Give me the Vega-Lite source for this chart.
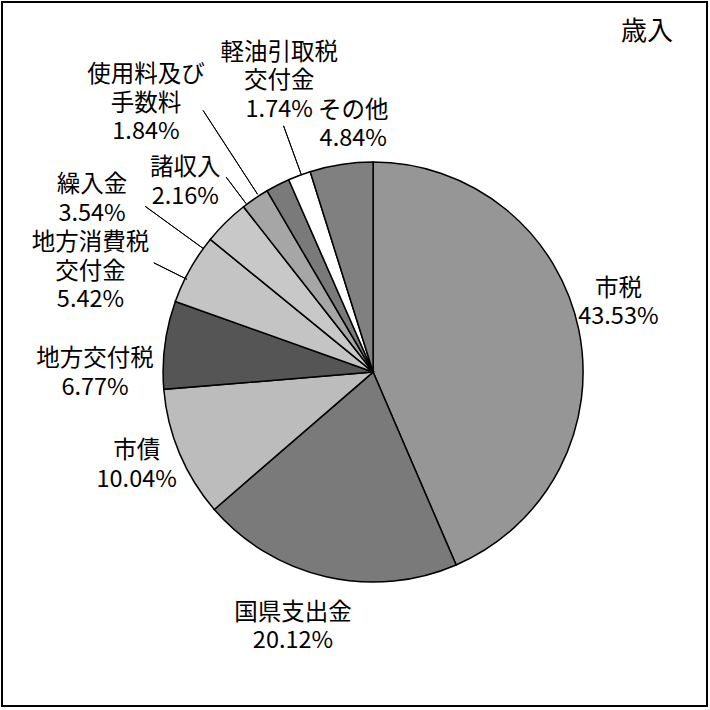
{
  "$schema": "https://vega.github.io/schema/vega-lite/v6.json",
  "width": 705,
  "height": 704,
  "autosize": {"type": "none"},
  "padding": {"left": 2, "top": 2, "right": 3, "bottom": 4},
  "background": "white",
  "config": {
    "view": {"stroke": "black", "strokeWidth": 2},
    "text": {"font": "Noto Sans CJK JP", "fontSize": 23.5, "lineHeight": 28.5, "lineBreak": "\n", "color": "black"}
  },
  "title": {
    "text": "歳入",
    "anchor": "end",
    "orient": "top",
    "frame": "group",
    "offset": -64,
    "dx": -34,
    "font": "Noto Sans CJK JP",
    "fontSize": 26,
    "fontWeight": "normal",
    "color": "black",
    "baseline": "alphabetic"
  },
  "data": {
    "values": [
      {"name": "市税", "value": 43.53},
      {"name": "国県支出金", "value": 20.12},
      {"name": "市債", "value": 10.04},
      {"name": "地方交付税", "value": 6.77},
      {"name": "地方消費税\n交付金", "value": 5.42},
      {"name": "繰入金", "value": 3.54},
      {"name": "諸収入", "value": 2.16},
      {"name": "使用料及び\n手数料", "value": 1.84},
      {"name": "軽油引取税\n交付金", "value": 1.74},
      {"name": "その他", "value": 4.84}
    ]
  },
  "transform": [
    {"stack": "value", "groupby": [], "as": ["v0", "v1"]},
    {"calculate": "(datum.v0 + datum.v1) / 2", "as": "mid"},
    {"calculate": "datum.name + '\\n' + format(datum.value, '.2f') + '%'", "as": "label"}
  ],
  "encoding": {
    "x": {"datum": 0, "type": "quantitative", "scale": {"domain": [-1.767, 1.59], "nice": false, "zero": false}, "axis": null},
    "y": {"datum": 0, "type": "quantitative", "scale": {"domain": [-1.59, 1.762], "nice": false, "zero": false}, "axis": null}
  },
  "layer": [
    {
      "mark": {"type": "arc", "radius": 210, "stroke": "black", "strokeWidth": 1.5},
      "encoding": {
        "theta": {"field": "v0", "type": "quantitative", "scale": {"domain": [0, 100]}},
        "theta2": {"field": "v1"},
        "color": {
          "field": "name",
          "type": "nominal",
          "legend": null,
          "scale": {
            "domain": ["市税", "国県支出金", "市債", "地方交付税", "地方消費税\n交付金", "繰入金", "諸収入", "使用料及び\n手数料", "軽油引取税\n交付金", "その他"],
            "range": ["#969696", "#7a7a7a", "#bcbcbc", "#555555", "#c4c4c4", "#c8c8c8", "#a6a6a6", "#7a7a7a", "#ffffff", "#808080"]
          }
        }
      }
    },
    {
      "transform": [{"filter": {"field": "name", "equal": "地方消費税\n交付金"}}],
      "mark": {"type": "arc", "radius": 245, "radius2": 208, "thetaOffset": -0.051, "theta2Offset": -0.051, "stroke": "black", "strokeWidth": 1, "fill": null},
      "encoding": {"theta": {"field": "mid", "type": "quantitative"}, "theta2": {"field": "mid"}}
    },
    {
      "transform": [{"filter": {"field": "name", "equal": "繰入金"}}],
      "mark": {"type": "arc", "radius": 282, "radius2": 210, "thetaOffset": -0.166, "theta2Offset": -0.166, "stroke": "black", "strokeWidth": 1, "fill": null},
      "encoding": {"theta": {"field": "mid", "type": "quantitative"}, "theta2": {"field": "mid"}}
    },
    {
      "transform": [{"filter": {"field": "name", "equal": "諸収入"}}],
      "mark": {"type": "arc", "radius": 244, "radius2": 211, "thetaOffset": -0.049, "theta2Offset": -0.049, "stroke": "black", "strokeWidth": 1, "fill": null},
      "encoding": {"theta": {"field": "mid", "type": "quantitative"}, "theta2": {"field": "mid"}}
    },
    {
      "transform": [{"filter": {"field": "name", "equal": "使用料及び\n手数料"}}],
      "mark": {"type": "arc", "radius": 312, "radius2": 212, "thetaOffset": -0.105, "theta2Offset": -0.105, "stroke": "black", "strokeWidth": 1, "fill": null},
      "encoding": {"theta": {"field": "mid", "type": "quantitative"}, "theta2": {"field": "mid"}}
    },
    {
      "transform": [{"filter": {"field": "name", "equal": "軽油引取税\n交付金"}}],
      "mark": {"type": "arc", "radius": 262, "radius2": 210, "thetaOffset": 0.01, "theta2Offset": 0.01, "stroke": "black", "strokeWidth": 1, "fill": null},
      "encoding": {"theta": {"field": "mid", "type": "quantitative"}, "theta2": {"field": "mid"}}
    },
    {
      "transform": [{"filter": {"field": "name", "equal": "市税"}}],
      "mark": {"type": "text", "thetaOffset": -0.073, "dy": -14},
      "encoding": {"theta": {"field": "mid", "type": "quantitative"}, "radius": {"value": 255}, "text": {"field": "label"}}
    },
    {
      "transform": [{"filter": {"field": "name", "equal": "国県支出金"}}],
      "mark": {"type": "text", "thetaOffset": 0.079, "dy": -14},
      "encoding": {"theta": {"field": "mid", "type": "quantitative"}, "radius": {"value": 267}, "text": {"field": "label"}}
    },
    {
      "transform": [{"filter": {"field": "name", "equal": "市債"}}],
      "mark": {"type": "text", "thetaOffset": 0.023, "dy": -14},
      "encoding": {"theta": {"field": "mid", "type": "quantitative"}, "radius": {"value": 254}, "text": {"field": "label"}}
    },
    {
      "transform": [{"filter": {"field": "name", "equal": "地方交付税"}}],
      "mark": {"type": "text", "thetaOffset": -0.134, "dy": -14},
      "encoding": {"theta": {"field": "mid", "type": "quantitative"}, "radius": {"value": 278}, "text": {"field": "label"}}
    },
    {
      "transform": [{"filter": {"field": "name", "equal": "地方消費税\n交付金"}}],
      "mark": {"type": "text", "thetaOffset": -0.171, "dy": -28},
      "encoding": {"theta": {"field": "mid", "type": "quantitative"}, "radius": {"value": 300}, "text": {"field": "label"}}
    },
    {
      "transform": [{"filter": {"field": "name", "equal": "繰入金"}}],
      "mark": {"type": "text", "thetaOffset": -0.243, "dy": -14},
      "encoding": {"theta": {"field": "mid", "type": "quantitative"}, "radius": {"value": 330}, "text": {"field": "label"}}
    },
    {
      "transform": [{"filter": {"field": "name", "equal": "諸収入"}}],
      "mark": {"type": "text", "thetaOffset": -0.183, "dy": -14},
      "encoding": {"theta": {"field": "mid", "type": "quantitative"}, "radius": {"value": 267}, "text": {"field": "label"}}
    },
    {
      "transform": [{"filter": {"field": "name", "equal": "使用料及び\n手数料"}}],
      "mark": {"type": "text", "thetaOffset": -0.230, "dy": -28},
      "encoding": {"theta": {"field": "mid", "type": "quantitative"}, "radius": {"value": 352}, "text": {"field": "label"}}
    },
    {
      "transform": [{"filter": {"field": "name", "equal": "軽油引取税\n交付金"}}],
      "mark": {"type": "text", "thetaOffset": 0.047, "dy": -28},
      "encoding": {"theta": {"field": "mid", "type": "quantitative"}, "radius": {"value": 306}, "text": {"field": "label"}}
    },
    {
      "transform": [{"filter": {"field": "name", "equal": "その他"}}],
      "mark": {"type": "text", "thetaOffset": 0.072, "dy": -14},
      "encoding": {"theta": {"field": "mid", "type": "quantitative"}, "radius": {"value": 248}, "text": {"field": "label"}}
    }
  ]
}
